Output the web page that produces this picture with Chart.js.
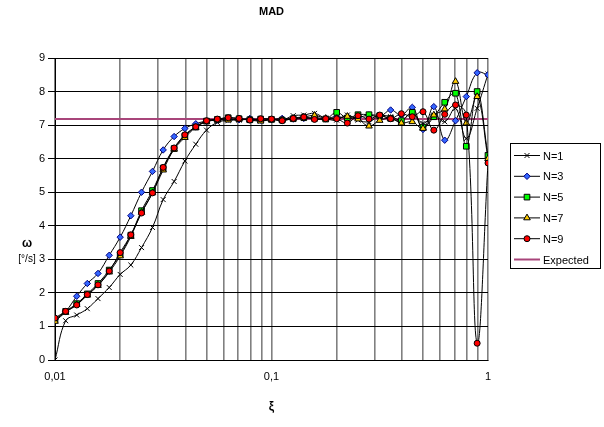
<!DOCTYPE html>
<html>
<head>
<meta charset="utf-8">
<script src="https://cdn.jsdelivr.net/npm/chart.js@4.4.1/dist/chart.umd.min.js"></script>
<style>
html, body { margin: 0; padding: 0; background: #fff; }
#wrap { width: 604px; height: 427px; }
</style>
</head>
<body>
<div id="wrap"><canvas id="madChart" width="604" height="427"></canvas></div>
<script>
// xi sample points (log spaced, 20 per decade)
const xi = [0.01, 0.0112, 0.0126, 0.0141, 0.0158, 0.0178, 0.02, 0.0224, 0.0251, 0.0282,
    0.0316, 0.0355, 0.0398, 0.0447, 0.0501, 0.0562, 0.0631, 0.0708, 0.0794, 0.0891,
    0.1, 0.112, 0.126, 0.141, 0.158, 0.178, 0.2, 0.224, 0.251, 0.282,
    0.316, 0.355, 0.398, 0.447, 0.501, 0.562, 0.631, 0.708, 0.794, 0.891, 1];

// omega per filter length N
const n1 = [0, 1.17, 1.34, 1.53, 1.83, 2.16, 2.55, 2.83, 3.35, 3.95,
    4.78, 5.32, 5.93, 6.43, 6.85, 7.08, 7.14, 7.15, 7.17, 7.12,
    7.18, 7.15, 7.28, 7.3, 7.35, 7.2, 7.15, 7.3, 7.15, 7.1,
    7.28, 7.25, 7.15, 7.35, 7.05, 7.3, 7.1, 7.5, 6.6, 7.5, 8.52];
const n3 = [1.2, 1.45, 1.9, 2.28, 2.58, 3.12, 3.66, 4.3, 5.0, 5.62,
    6.26, 6.66, 6.9, 7.04, 7.12, 7.15, 7.18, 7.16, 7.2, 7.15,
    7.17, 7.2, 7.18, 7.2, 7.22, 7.2, 7.25, 7.2, 7.22, 7.3,
    7.25, 7.45, 7.3, 7.53, 6.87, 7.55, 6.55, 7.13, 7.85, 8.56, 8.5];
const n5 = [1.2, 1.45, 1.68, 1.97, 2.28, 2.68, 3.15, 3.72, 4.45, 5.05,
    5.72, 6.3, 6.68, 6.94, 7.12, 7.17, 7.22, 7.19, 7.16, 7.18,
    7.17, 7.15, 7.19, 7.22, 7.2, 7.18, 7.38, 7.21, 7.31, 7.31,
    7.28, 7.2, 7.13, 7.38, 6.94, 7.25, 7.68, 7.95, 6.37, 8.0, 6.1];
const n7 = [1.15, 1.42, 1.65, 1.93, 2.22, 2.62, 3.1, 3.68, 4.4, 4.98,
    5.66, 6.28, 6.63, 6.93, 7.1, 7.15, 7.15, 7.18, 7.15, 7.12,
    7.16, 7.15, 7.2, 7.24, 7.29, 7.2, 7.2, 7.26, 7.18, 6.97,
    7.14, 7.2, 7.06, 7.1, 6.9, 7.3, 7.48, 8.3, 7.06, 7.85, 6.0];
const n9 = [1.25, 1.45, 1.64, 1.95, 2.24, 2.65, 3.2, 3.73, 4.38, 4.98,
    5.74, 6.32, 6.71, 6.95, 7.13, 7.18, 7.22, 7.2, 7.15, 7.19,
    7.18, 7.13, 7.2, 7.24, 7.17, 7.19, 7.19, 7.06, 7.28, 7.18,
    7.3, 7.19, 7.34, 7.25, 7.4, 6.85, 7.32, 7.6, 7.3, 0.5, 5.87];
const expected = 7.18;

// axis ticks
const xTicks = [0.01, 0.02, 0.03, 0.04, 0.05, 0.06, 0.07, 0.08, 0.09,
    0.1, 0.2, 0.3, 0.4, 0.5, 0.6, 0.7, 0.8, 0.9, 1];
const xLabels = { 0.01: '0,01', 0.1: '0,1', 1: '1' };
const yTicks = [0, 1, 2, 3, 4, 5, 6, 7, 8, 9];

const FONT = "'Liberation Sans', Arial, sans-serif";
const PLUM = '#A8457A';

const toPts = arr => arr.map((v, i) => ({ x: xi[i], y: v }));

// series look (line + marker)
const seriesDefs = [
    { label: 'N=1', data: n1, style: 'crossRot', r: 3.5, fill: '#000', stroke: '#000', order: 5 },
    { label: 'N=3', data: n3, style: 'rectRot', r: 3.2, fill: '#3366FF', stroke: '#000080', order: 4 },
    { label: 'N=5', data: n5, style: 'rect', r: 4, fill: '#00FF00', stroke: '#000', order: 3 },
    { label: 'N=7', data: n7, style: 'triangle', r: 3.8, fill: '#FFCC00', stroke: '#000', order: 2 },
    { label: 'N=9', data: n9, style: 'circle', r: 3, fill: '#FF0000', stroke: '#000', order: 1 }
];

const datasets = seriesDefs.map(s => ({
    label: s.label,
    data: toPts(s.data),
    borderColor: '#000',
    borderWidth: 1,
    tension: 0.4,
    pointStyle: s.style,
    pointRadius: s.r,
    pointBackgroundColor: s.fill,
    pointBorderColor: s.stroke,
    pointBorderWidth: 1,
    order: s.order
}));
datasets.push({
    label: 'Expected',
    data: [{ x: xi[0], y: expected }, { x: xi[xi.length - 1], y: expected }],
    borderColor: PLUM,
    borderWidth: 2,
    pointRadius: 0,
    tension: 0,
    order: 6
});

// marker for the legend swatches
function marker(ctx, s, x, y) {
    ctx.save();
    ctx.fillStyle = s.fill;
    ctx.strokeStyle = s.stroke;
    ctx.lineWidth = 1;
    ctx.beginPath();
    if (s.style === 'circle') {
        ctx.arc(x, y, s.r, 0, Math.PI * 2);
        ctx.fill(); ctx.stroke();
    } else if (s.style === 'rect') {
        const h = s.r * Math.SQRT1_2;
        ctx.rect(x - h, y - h, 2 * h, 2 * h);
        ctx.fill(); ctx.stroke();
    } else if (s.style === 'rectRot') {
        ctx.moveTo(x, y - s.r); ctx.lineTo(x + s.r, y);
        ctx.lineTo(x, y + s.r); ctx.lineTo(x - s.r, y);
        ctx.closePath(); ctx.fill(); ctx.stroke();
    } else if (s.style === 'triangle') {
        ctx.moveTo(x, y - s.r); ctx.lineTo(x + s.r * 0.87, y + s.r * 0.5);
        ctx.lineTo(x - s.r * 0.87, y + s.r * 0.5);
        ctx.closePath(); ctx.fill(); ctx.stroke();
    } else {
        const d = s.r * Math.SQRT1_2;
        ctx.moveTo(x - d, y - d); ctx.lineTo(x + d, y + d);
        ctx.moveTo(x + d, y - d); ctx.lineTo(x - d, y + d);
        ctx.stroke();
    }
    ctx.restore();
}

// title, axis titles and boxed legend
const decor = {
    id: 'decor',
    afterDraw(chart) {
        const ctx = chart.ctx;
        const area = chart.chartArea;
        const cx = (area.left + area.right) / 2;
        ctx.save();
        ctx.fillStyle = '#000';
        ctx.textAlign = 'center';
        ctx.textBaseline = 'middle';
        ctx.font = 'bold 11px ' + FONT;
        ctx.fillText('MAD', cx, 12);
        ctx.font = 'bold 12px ' + FONT;
        ctx.fillText('ξ', cx, 407);
        ctx.fillText('ω', 27, 244);
        ctx.font = '10px ' + FONT;
        ctx.fillText('[°/s]', 27, 259);

        // legend box
        const bx = 510, by = 143, bw = 90, bh = 125;
        ctx.fillStyle = '#fff';
        ctx.fillRect(bx, by, bw, bh);
        ctx.strokeStyle = '#000';
        ctx.lineWidth = 1;
        ctx.strokeRect(bx + 0.5, by + 0.5, bw, bh);
        ctx.font = '11px ' + FONT;
        ctx.textAlign = 'left';
        const rowH = 20.8;
        seriesDefs.forEach((s, i) => {
            const y = by + 12.5 + i * rowH;
            ctx.strokeStyle = '#000';
            ctx.lineWidth = 1;
            ctx.beginPath();
            ctx.moveTo(bx + 4, y);
            ctx.lineTo(bx + 30, y);
            ctx.stroke();
            marker(ctx, s, bx + 17, y);
            ctx.fillStyle = '#000';
            ctx.fillText(s.label, bx + 33, y + 1);
        });
        const ey = by + 12.5 + 5 * rowH;
        ctx.strokeStyle = PLUM;
        ctx.lineWidth = 2;
        ctx.beginPath();
        ctx.moveTo(bx + 4, ey);
        ctx.lineTo(bx + 30, ey);
        ctx.stroke();
        ctx.fillStyle = '#000';
        ctx.fillText('Expected', bx + 33, ey + 1);
        ctx.restore();
    }
};

const chart = new Chart(document.getElementById('madChart'), {
    type: 'line',
    data: { datasets },
    options: {
        responsive: false,
        animation: false,
        layout: { padding: { left: 0, right: 116, top: 58, bottom: 0 } },
        plugins: {
            legend: { display: false },
            title: { display: false },
            tooltip: { enabled: false }
        },
        scales: {
            x: {
                type: 'logarithmic',
                min: 0.01,
                max: 1,
                afterBuildTicks: scale => { scale.ticks = xTicks.map(v => ({ value: v })); },
                afterFit: scale => { scale.height = 67; },
                grid: { color: '#808080', lineWidth: 1.6, drawTicks: false },
                border: { color: '#000', width: 1 },
                ticks: {
                    autoSkip: false,
                    maxRotation: 0,
                    padding: 10,
                    color: '#000',
                    font: { family: FONT, size: 11 },
                    callback: v => xLabels[v] || ''
                }
            },
            y: {
                min: 0,
                max: 9,
                afterBuildTicks: scale => { scale.ticks = yTicks.map(v => ({ value: v })); },
                afterFit: scale => { scale.width = 55; },
                grid: { color: '#000', lineWidth: 1, tickLength: 7 },
                border: { color: '#000', width: 1 },
                ticks: {
                    padding: 3,
                    color: '#000',
                    font: { family: FONT, size: 11 }
                }
            }
        }
    },
    plugins: [decor]
});
</script>
</body>
</html>
